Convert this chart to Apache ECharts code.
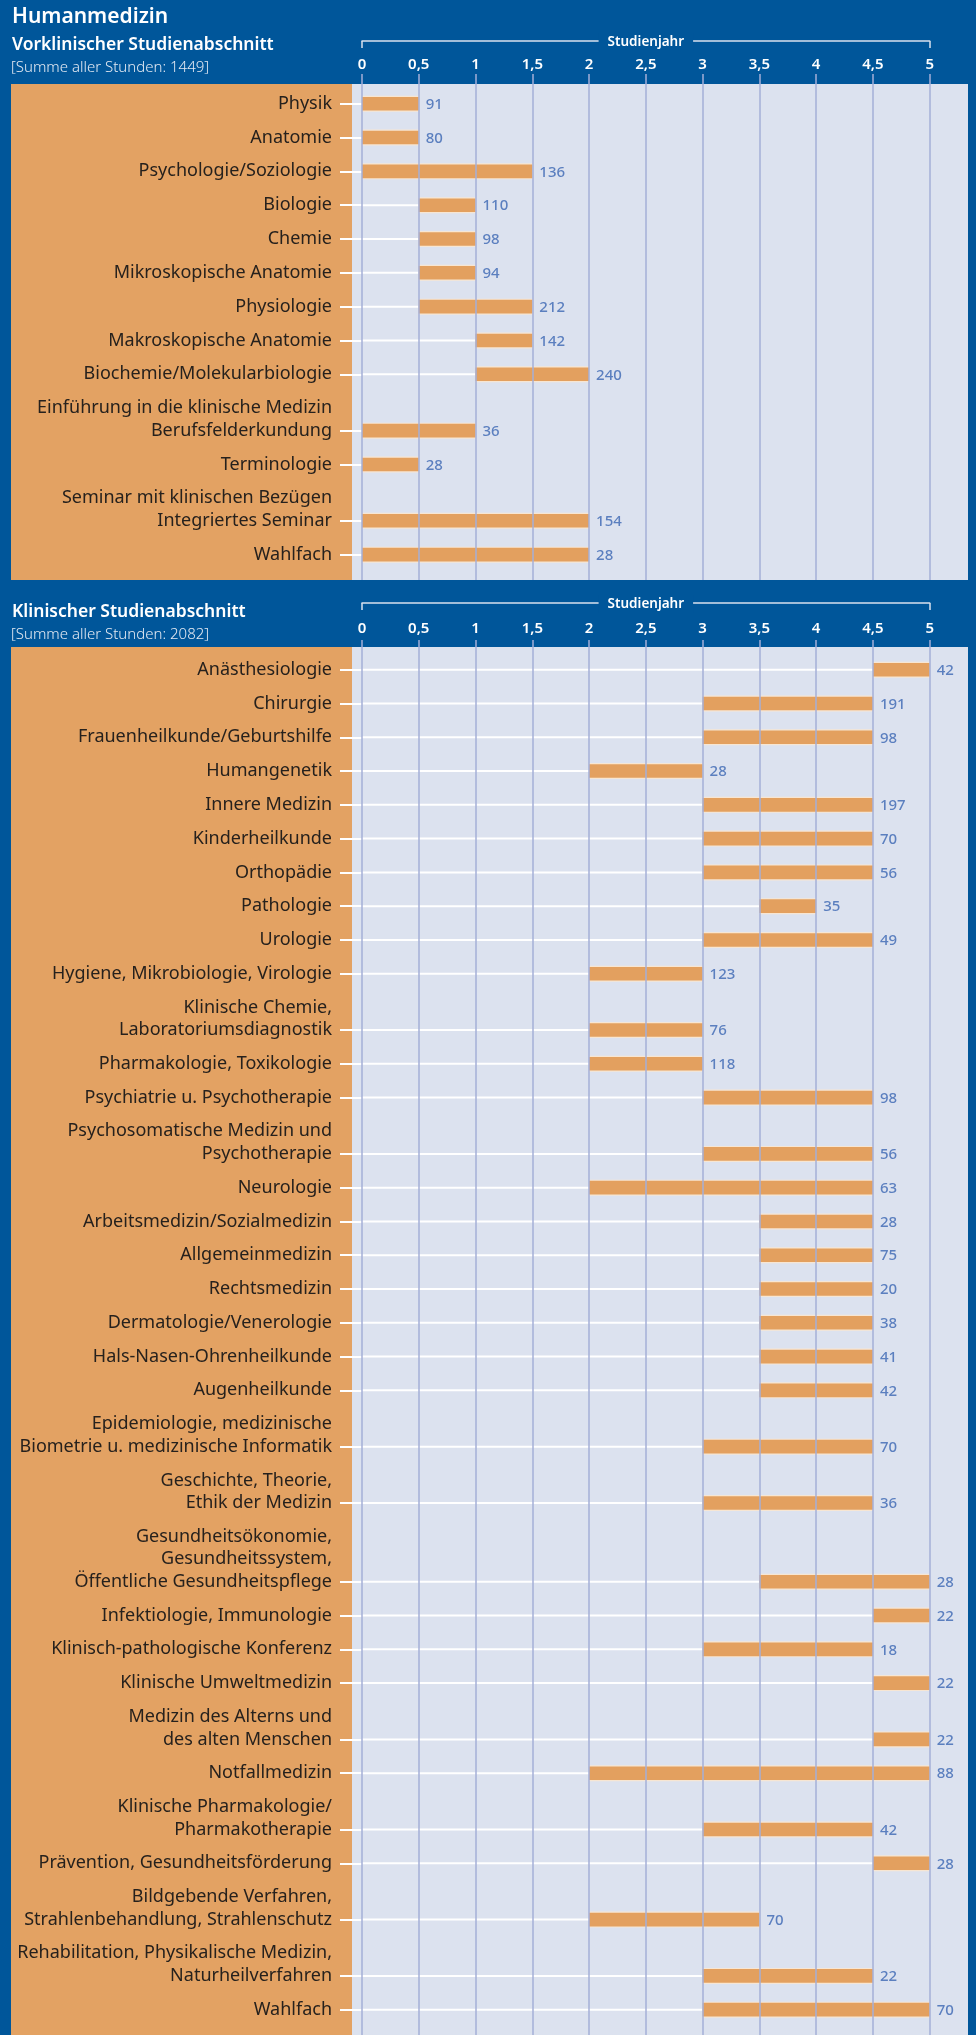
<!DOCTYPE html>
<html>
<head>
<meta charset="utf-8">
<script src="https://cdn.jsdelivr.net/npm/echarts@6/dist/echarts.min.js"></script>
<style>
html,body{margin:0;padding:0;background:#00569A;}
#c{width:976px;height:2035px;}
</style>
</head>
<body>
<div id="c"></div>
<script>
// ---------- DATA ----------
const mainTitle = 'Humanmedizin';

const preTitle = 'Vorklinischer Studienabschnitt';
const preSum = '[Summe aller Stunden: 1449]';
const preSubjects = [
  'Physik', 'Anatomie', 'Psychologie/Soziologie', 'Biologie', 'Chemie',
  'Mikroskopische Anatomie', 'Physiologie', 'Makroskopische Anatomie',
  'Biochemie/Molekularbiologie',
  'Einführung in die klinische Medizin\nBerufsfelderkundung',
  'Terminologie',
  'Seminar mit klinischen Bezügen\nIntegriertes Seminar',
  'Wahlfach'
];
const preStart = [0, 0, 0, 0.5, 0.5, 0.5, 0.5, 1, 1, 0, 0, 0, 0];
const preEnd   = [0.5, 0.5, 1.5, 1, 1, 1, 1.5, 1.5, 2, 1, 0.5, 2, 2];
const preHours = [91, 80, 136, 110, 98, 94, 212, 142, 240, 36, 28, 154, 28];

const cliTitle = 'Klinischer Studienabschnitt';
const cliSum = '[Summe aller Stunden: 2082]';
const cliSubjects = [
  'Anästhesiologie', 'Chirurgie', 'Frauenheilkunde/Geburtshilfe', 'Humangenetik',
  'Innere Medizin', 'Kinderheilkunde', 'Orthopädie', 'Pathologie', 'Urologie',
  'Hygiene, Mikrobiologie, Virologie',
  'Klinische Chemie,\nLaboratoriumsdiagnostik',
  'Pharmakologie, Toxikologie',
  'Psychiatrie u. Psychotherapie',
  'Psychosomatische Medizin und\nPsychotherapie',
  'Neurologie', 'Arbeitsmedizin/Sozialmedizin', 'Allgemeinmedizin', 'Rechtsmedizin',
  'Dermatologie/Venerologie', 'Hals-Nasen-Ohrenheilkunde', 'Augenheilkunde',
  'Epidemiologie, medizinische\nBiometrie u. medizinische Informatik',
  'Geschichte, Theorie,\nEthik der Medizin',
  'Gesundheitsökonomie,\nGesundheitssystem,\nÖffentliche Gesundheitspflege',
  'Infektiologie, Immunologie',
  'Klinisch-pathologische Konferenz',
  'Klinische Umweltmedizin',
  'Medizin des Alterns und\ndes alten Menschen',
  'Notfallmedizin',
  'Klinische Pharmakologie/\nPharmakotherapie',
  'Prävention, Gesundheitsförderung',
  'Bildgebende Verfahren,\nStrahlenbehandlung, Strahlenschutz',
  'Rehabilitation, Physikalische Medizin,\nNaturheilverfahren',
  'Wahlfach'
];
const cliStart = [4.5, 3, 3, 2, 3, 3, 3, 3.5, 3, 2, 2, 2, 3, 3, 2, 3.5, 3.5, 3.5, 3.5, 3.5, 3.5,
                  3, 3, 3.5, 4.5, 3, 4.5, 4.5, 2, 3, 4.5, 2, 3, 3];
const cliEnd   = [5, 4.5, 4.5, 3, 4.5, 4.5, 4.5, 4, 4.5, 3, 3, 3, 4.5, 4.5, 4.5, 4.5, 4.5, 4.5, 4.5, 4.5, 4.5,
                  4.5, 4.5, 5, 5, 4.5, 5, 5, 5, 4.5, 5, 3.5, 4.5, 5];
const cliHours = [42, 191, 98, 28, 197, 70, 56, 35, 49, 123, 76, 118, 98, 56, 63, 28, 75, 20, 38, 41, 42,
                  70, 36, 28, 22, 18, 22, 22, 88, 42, 28, 70, 22, 70];

const axisName = 'Studienjahr';
const xTicks = { min: 0, max: 5, step: 0.5 };

// ---------- STYLE ----------
const C = {
  bg: '#00569A', orange: '#E3A263', bar: '#E3A05F', barEdge: '#F7E6D3',
  panel: '#DCE2EF', grid: '#A4AFD7', value: '#5B7FBF', text: '#26211D'
};
const FONT = "'Noto Sans', 'Open Sans', sans-serif";

// Build fine slot categories so multi-line labels get extra room
function buildSlots(labels) {
  const cats = [''];
  const barIdx = [];
  labels.forEach(l => {
    const lines = l.split('\n');
    const L = lines.length;
    const base = cats.length;
    const k = 6 + 4 * (L - 1);
    for (let i = 0; i < k; i++) cats.push('');
    lines.forEach((ln, j) => { cats[base + 2 + 4 * j] = ln; });
    barIdx.push(base + 2 + 4 * (L - 1));
  });
  cats.push('');
  return { cats, barIdx };
}

const P1 = buildSlots(preSubjects);
const P2 = buildSlots(cliSubjects);

const panels = [
  { slots: P1, start: preStart, end: preEnd, hours: preHours, panelTop: 84, top: 84, bottom: 580, labelMargin: 12, bracket: 43 },
  { slots: P2, start: cliStart, end: cliEnd, hours: cliHours, panelTop: 647, top: 650, bottom: 2035, labelMargin: 14, bracket: 47 }
];

const GL = 362, GR = 976 - 929.7;

function renderBar(params, api) {
  const y = api.value(0), s = api.value(1), e = api.value(2), h = api.value(3);
  const p0 = api.coord([0, y]);
  const ps = api.coord([s, y]);
  const pe = api.coord([e, y]);
  const children = [];
  if (s > 0) {
    children.push({ type: 'line', shape: { x1: p0[0], y1: p0[1], x2: ps[0], y2: ps[1] },
      style: { stroke: '#FFFFFF', lineWidth: 2 } });
  }
  children.push({ type: 'rect', shape: { x: ps[0], y: ps[1] - 8, width: pe[0] - ps[0], height: 16 },
    style: { fill: C.barEdge } });
  children.push({ type: 'rect', shape: { x: ps[0], y: ps[1] - 6.8, width: pe[0] - ps[0], height: 13.6 },
    style: { fill: C.bar } });
  children.push({ type: 'text', style: { text: String(h), x: pe[0] + 7, y: pe[1] + 1,
    fill: C.value, font: "500 15px " + FONT, verticalAlign: 'middle', align: 'left' } });
  return { type: 'group', children };
}

const grids = [], xAxes = [], yAxes = [], series = [], graphics = [];
panels.forEach((p, i) => {
  grids.push({ left: GL, right: GR, top: p.top, height: p.bottom - p.top, containLabel: false });
  graphics.push({ type: 'rect', z: -100, shape: { x: 11, y: p.panelTop, width: 341, height: p.bottom - p.panelTop }, style: { fill: C.orange } });
  graphics.push({ type: 'rect', z: -100, shape: { x: 352, y: p.panelTop, width: 616, height: p.bottom - p.panelTop }, style: { fill: C.panel } });
  xAxes.push({
    gridIndex: i, type: 'value', position: 'top', min: xTicks.min, max: xTicks.max, interval: xTicks.step, z: 10,
    axisLine: { show: false },
    axisTick: { show: true, length: 10, lineStyle: { color: C.grid, width: 1.5 } },
    axisLabel: { color: '#FFFFFF', fontSize: 15, fontWeight: 600, fontFamily: FONT, margin: p.labelMargin,
      formatter: v => String(v).replace('.', ',') },
    splitLine: { show: true, lineStyle: { color: C.grid, width: 1.5 } }
  });
  xAxes.push({
    gridIndex: i, type: 'value', position: 'top', min: xTicks.min, max: xTicks.max, interval: 5, offset: p.bracket,
    axisLine: { show: true, lineStyle: { color: '#D9E1EE', width: 1.5 } },
    axisTick: { show: true, inside: true, length: 7, lineStyle: { color: '#D9E1EE', width: 1.5 } },
    axisLabel: { show: false }, splitLine: { show: false }
  });
  const barSet = new Set(p.slots.barIdx);
  yAxes.push({
    gridIndex: i, type: 'category', inverse: true, data: p.slots.cats,
    axisLine: { show: false },
    axisTick: { show: true, alignWithLabel: true, length: 22, interval: idx => barSet.has(idx),
      lineStyle: { color: '#FFFFFF', width: 2 } },
    axisLabel: { interval: 0, color: C.text, fontSize: 18, fontFamily: FONT, margin: 30 },
    splitLine: { show: false }
  });
  series.push({
    type: 'custom', xAxisIndex: i * 2, yAxisIndex: i, z: 2,
    renderItem: renderBar,
    encode: { x: [1, 2], y: 0 },
    data: p.slots.barIdx.map((b, k) => [b, p.start[k], p.end[k], p.hours[k]])
  });
});

const chart = echarts.init(document.getElementById('c'), null, { renderer: 'canvas' });
chart.setOption({
  backgroundColor: C.bg,
  animation: false,
  textStyle: { fontFamily: FONT },
  title: [
    { text: mainTitle, left: 12, top: 7, padding: 0, textStyle: { color: '#FFFFFF', fontSize: 21, fontWeight: 600, fontFamily: FONT } },
    { text: preTitle, left: 12, top: 36, padding: 0, textStyle: { color: '#FFFFFF', fontSize: 17.5, fontWeight: 600, fontFamily: FONT } },
    { text: preSum, left: 11, top: 60, padding: 0, textStyle: { color: '#E4EAF3', fontSize: 15, fontWeight: 300, fontFamily: FONT } },
    { text: cliTitle, left: 12, top: 603, padding: 0, textStyle: { color: '#FFFFFF', fontSize: 17.5, fontWeight: 600, fontFamily: FONT } },
    { text: cliSum, left: 11, top: 627, padding: 0, textStyle: { color: '#E4EAF3', fontSize: 15, fontWeight: 300, fontFamily: FONT } }
  ],
  graphic: graphics,
  grid: grids,
  xAxis: xAxes,
  yAxis: yAxes,
  series: series
});

// "Studienjahr" label centred on each bracket axis
const nameGraphics = panels.map((p, i) => {
  const xa = chart.convertToPixel({ xAxisIndex: i * 2 + 1 }, xTicks.min);
  const xb = chart.convertToPixel({ xAxisIndex: i * 2 + 1 }, xTicks.max);
  return {
    type: 'text', z: 100,
    style: { text: axisName, x: (xa + xb) / 2, y: p.top - p.bracket + 1, align: 'center', verticalAlign: 'middle',
      fill: '#FFFFFF', font: '600 13.5px ' + FONT, backgroundColor: C.bg, padding: [2, 9] }
  };
});
chart.setOption({ graphic: graphics.concat(nameGraphics) });
</script>
</body>
</html>
